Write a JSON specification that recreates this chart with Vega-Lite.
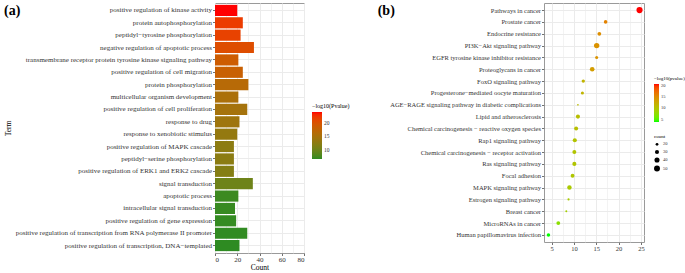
{
  "$schema": "https://vega.github.io/schema/vega-lite/v6.json",
  "background": "white",
  "padding": {"left": 3, "top": 2, "right": 0, "bottom": 0},
  "spacing": 26,
  "resolve": {"scale": {"color": "independent", "size": "independent"}, "legend": {"color": "independent", "size": "independent"}},
  "config": {
    "font": "Liberation Serif",
    "view": {"stroke": "#9a9a9a", "strokeWidth": 1},
    "axis": {
      "labelFont": "Liberation Serif",
      "titleFont": "Liberation Serif",
      "labelColor": "#333333",
      "tickColor": "#333333",
      "tickSize": 2.5,
      "tickWidth": 0.7,
      "domain": false,
      "labelPadding": 1,
      "gridColor": "#EBEBEB",
      "gridWidth": 1,
      "titleFontWeight": "normal",
      "titleColor": "black"
    },
    "legend": {
      "titleFont": "Liberation Serif",
      "labelFont": "Liberation Serif",
      "titleFontWeight": "normal",
      "titleColor": "black",
      "labelColor": "#333333"
    }
  },
  "hconcat": [
    {
      "title": {"text": "(a)", "anchor": "start", "frame": "bounds", "offset": -15, "fontSize": 14, "fontWeight": "bold", "font": "Liberation Serif", "color": "black"},
      "width": 89,
      "height": 250,
      "data": {
        "values": [
          {"term": "positive regulation of kinase activity", "count": 20, "logp": 23.8},
          {"term": "protein autophosphorylation", "count": 25, "logp": 21.8},
          {"term": "peptidyl−tyrosine phosphorylation", "count": 23, "logp": 21.4},
          {"term": "negative regulation of apoptotic process", "count": 35, "logp": 20.4},
          {"term": "transmembrane receptor protein tyrosine kinase signaling pathway", "count": 21, "logp": 18.7},
          {"term": "positive regulation of cell migration", "count": 25, "logp": 18.2},
          {"term": "protein phosphorylation", "count": 30, "logp": 16.5},
          {"term": "multicellular organism development", "count": 21, "logp": 15.4},
          {"term": "positive regulation of cell proliferation", "count": 29, "logp": 14.8},
          {"term": "response to drug", "count": 22, "logp": 14.2},
          {"term": "response to xenobiotic stimulus", "count": 20, "logp": 13.3},
          {"term": "positive regulation of MAPK cascade", "count": 17, "logp": 12.6},
          {"term": "peptidyl−serine phosphorylation", "count": 17, "logp": 12.5},
          {"term": "positive regulation of ERK1 and ERK2 cascade", "count": 17, "logp": 12.0},
          {"term": "signal transduction", "count": 34, "logp": 10.3},
          {"term": "apoptotic process", "count": 21, "logp": 7.4},
          {"term": "intracellular signal transduction", "count": 18, "logp": 7.2},
          {"term": "positive regulation of gene expression", "count": 19, "logp": 7.1},
          {"term": "positive regulation of transcription from RNA polymerase II promoter", "count": 29, "logp": 7.0},
          {"term": "positive regulation of transcription, DNA−templated", "count": 22, "logp": 6.9}
        ]
      },
      "resolve": {"axis": {"x": "independent"}},
      "layer": [
        {
          "mark": {"type": "bar", "opacity": 0},
          "encoding": {
            "y": {"field": "term", "type": "nominal", "sort": null},
            "x": {
              "field": "count", "type": "quantitative",
              "scale": {"domain": [0, 80], "nice": false},
              "axis": {"orient": "top", "values": [10, 30, 50, 70], "grid": true, "gridWidth": 0.6, "labels": false, "ticks": false, "domain": false, "title": null}
            }
          }
        },
        {
          "mark": {"type": "bar"},
          "encoding": {
            "y": {
              "field": "term", "type": "nominal", "sort": null,
              "scale": {"paddingInner": 0.1, "paddingOuter": 0.15},
              "axis": {"title": "Term", "titleFontSize": 7.5, "titlePadding": 3, "labelFontSize": 7, "labelLimit": 400, "bandPosition": 0.5, "grid": true}
            },
            "x": {
              "field": "count", "type": "quantitative",
              "scale": {"domain": [0, 80], "nice": false},
              "axis": {"orient": "bottom", "values": [0, 20, 40, 60, 80], "grid": true, "title": "Count", "titleFontSize": 7.5, "titlePadding": 1, "labelFontSize": 7, "labelPadding": 0}
            },
            "color": {
              "field": "logp", "type": "quantitative",
              "scale": {"domain": [6.9, 23.8], "range": ["#2E8B22", "#FF0000"], "interpolate": "lab"},
              "legend": {"title": "−log10(Pvalue)", "orient": "none", "legendX": 97, "legendY": 100, "titleFontSize": 6, "labelFontSize": 5.5, "gradientLength": 47, "gradientThickness": 10, "values": [10, 15, 20], "titlePadding": 3, "labelOffset": 2}
            }
          }
        }
      ]
    },
    {
      "title": {"text": "(b)", "anchor": "start", "frame": "bounds", "offset": -15, "dx": -12, "fontSize": 14, "fontWeight": "bold", "font": "Liberation Serif", "color": "black"},
      "width": 100,
      "height": 239,
      "data": {
        "values": [
          {"pathway": "Pathways in cancer", "score": 24.7, "logp": 20.8, "count": 53},
          {"pathway": "Prostate cancer", "score": 17.1, "logp": 15.8, "count": 26},
          {"pathway": "Endocrine resistance", "score": 15.7, "logp": 14.9, "count": 27},
          {"pathway": "PI3K−Akt signaling pathway", "score": 15.1, "logp": 14.6, "count": 43},
          {"pathway": "EGFR tyrosine kinase inhibitor resistance", "score": 15.1, "logp": 14.5, "count": 22},
          {"pathway": "Proteoglycans in cancer", "score": 14.1, "logp": 13.7, "count": 35},
          {"pathway": "FoxO signaling pathway", "score": 12.1, "logp": 11.6, "count": 24},
          {"pathway": "Progesterone−mediated oocyte maturation", "score": 11.9, "logp": 11.5, "count": 22},
          {"pathway": "AGE−RAGE signaling pathway in diabetic complications", "score": 10.9, "logp": 11.0, "count": 15},
          {"pathway": "Lipid and atherosclerosis", "score": 10.9, "logp": 10.7, "count": 30},
          {"pathway": "Chemical carcinogenesis − reactive oxygen species", "score": 10.5, "logp": 10.6, "count": 29},
          {"pathway": "Rap1 signaling pathway", "score": 10.2, "logp": 10.2, "count": 30},
          {"pathway": "Chemical carcinogenesis − receptor activation", "score": 10.1, "logp": 10.1, "count": 29},
          {"pathway": "Ras signaling pathway", "score": 10.1, "logp": 10.1, "count": 30},
          {"pathway": "Focal adhesion", "score": 9.7, "logp": 9.9, "count": 28},
          {"pathway": "MAPK signaling pathway", "score": 9.0, "logp": 9.5, "count": 33},
          {"pathway": "Estrogen signaling pathway", "score": 8.8, "logp": 9.4, "count": 17},
          {"pathway": "Breast cancer", "score": 8.3, "logp": 9.0, "count": 16},
          {"pathway": "MicroRNAs in cancer", "score": 6.5, "logp": 7.4, "count": 28},
          {"pathway": "Human papillomavirus infection", "score": 4.3, "logp": 4.0, "count": 25}
        ]
      },
      "resolve": {"axis": {"x": "independent"}},
      "layer": [
        {
          "mark": {"type": "point", "opacity": 0},
          "encoding": {
            "y": {"field": "pathway", "type": "nominal", "sort": null},
            "x": {
              "field": "score", "type": "quantitative",
              "scale": {"domain": [3.3, 25.7], "nice": false, "zero": false},
              "axis": {"orient": "top", "values": [7.5, 12.5, 17.5, 22.5], "grid": true, "gridWidth": 0.6, "labels": false, "ticks": false, "domain": false, "title": null}
            }
          }
        },
        {
          "mark": {"type": "point", "filled": true, "opacity": 1, "strokeWidth": 0},
          "encoding": {
            "y": {
              "field": "pathway", "type": "nominal", "sort": null,
              "scale": {"padding": 0.6},
              "axis": {"title": null, "labelFontSize": 6.5, "labelLimit": 400, "grid": true}
            },
            "x": {
              "field": "score", "type": "quantitative",
              "scale": {"domain": [3.3, 25.7], "nice": false, "zero": false},
              "axis": {"orient": "bottom", "values": [5, 10, 15, 20, 25], "grid": true, "title": null, "labelFontSize": 6.5}
            },
            "color": {
              "field": "logp", "type": "quantitative",
              "scale": {"domain": [4.0, 20.8], "range": ["#00FF00", "#FF0000"], "interpolate": "lab"},
              "legend": {"title": "−log10(pvalue)", "orient": "none", "legendX": 110, "legendY": 73, "titleFontSize": 5, "labelFontSize": 4.5, "gradientLength": 38, "gradientThickness": 5, "values": [5, 10, 15, 20], "titlePadding": 3, "labelOffset": 2}
            },
            "size": {
              "field": "count", "type": "quantitative",
              "scale": {"domain": [14, 55], "range": [2, 40], "zero": false},
              "legend": {"title": "count", "orient": "none", "legendX": 110, "legendY": 131, "titleFontSize": 5, "labelFontSize": 4.5, "values": [20, 30, 40, 50], "symbolFillColor": "black", "symbolStrokeWidth": 0, "symbolType": "circle", "rowPadding": 2.5, "titlePadding": 3, "labelOffset": 3}
            }
          }
        }
      ]
    }
  ]
}
